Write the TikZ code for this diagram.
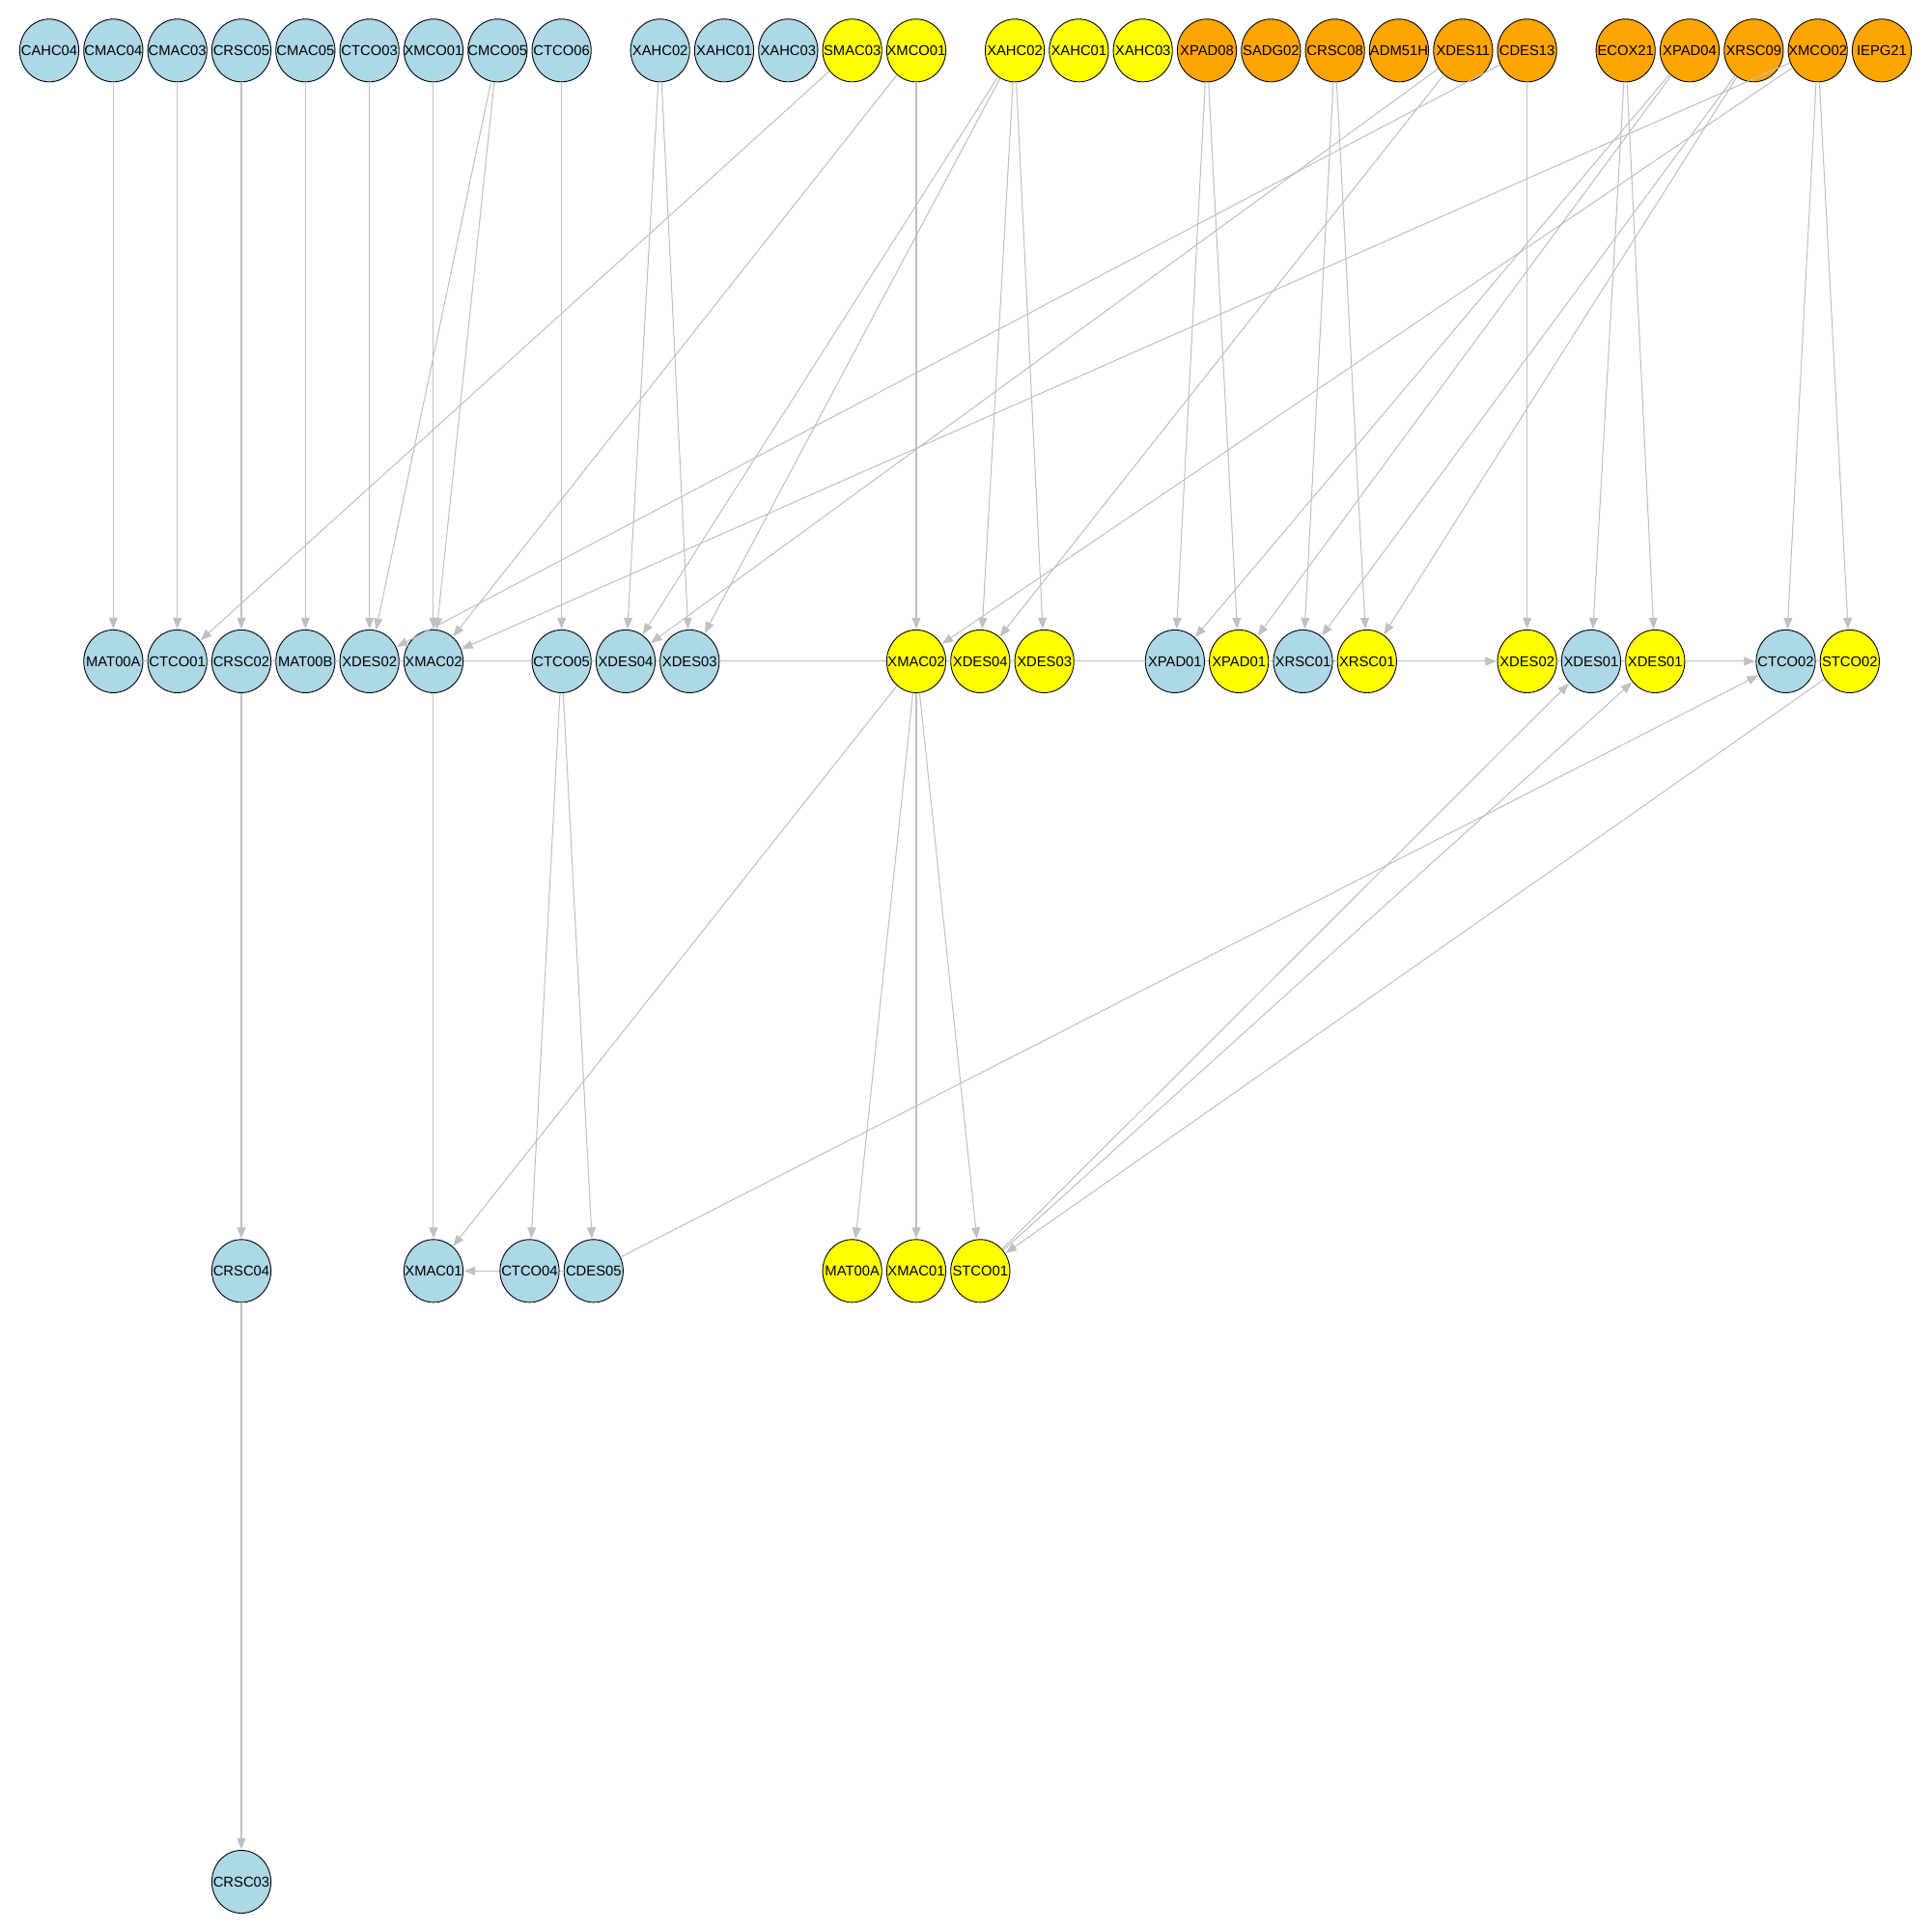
\documentclass[tikz,border=0pt]{standalone}
\usepackage{fontspec}
\setmainfont{Liberation Sans}
\usetikzlibrary{shapes.geometric,arrows.meta}
\definecolor{lb}{HTML}{ADD8E6}
\definecolor{yl}{HTML}{FFFF00}
\definecolor{og}{HTML}{FFA500}
\definecolor{eg}{HTML}{C0C0C0}
\tikzset{
  nd/.style={ellipse, draw=black, line width=0.7pt, minimum width=48pt, minimum height=51pt, inner sep=0pt, font=\fontsize{11.6}{13}\selectfont},
  bl/.style={nd, fill=lb},
  ye/.style={nd, fill=yl},
  or/.style={nd, fill=og},
  ed/.style={draw=eg, line width=0.8pt},
  ar/.style={ed, -{Triangle[length=9pt,width=7pt]}, shorten >=0.5pt},
}
\newcommand\mynode[5]{\node[#1] (#2) at (#3,-#4) {\makebox[0pt]{#5}};}
\begin{document}
\begin{tikzpicture}[x=1pt,y=1pt]
\useasboundingbox[fill=white] (0,0) rectangle (1568,-1568);
% top row
\mynode{bl}{tCAHC04}{40}{41}{CAHC04}
\mynode{bl}{tCMAC04}{92}{41}{CMAC04}
\mynode{bl}{tCMAC03}{144}{41}{CMAC03}
\mynode{bl}{tCRSC05}{196}{41}{CRSC05}
\mynode{bl}{tCMAC05}{248}{41}{CMAC05}
\mynode{bl}{tCTCO03}{300}{41}{CTCO03}
\mynode{bl}{tXMCO01b}{352}{41}{XMCO01}
\mynode{bl}{tCMCO05}{404}{41}{CMCO05}
\mynode{bl}{tCTCO06}{456}{41}{CTCO06}
\mynode{bl}{tXAHC02b}{536}{41}{XAHC02}
\mynode{bl}{tXAHC01b}{588}{41}{XAHC01}
\mynode{bl}{tXAHC03b}{640}{41}{XAHC03}
\mynode{ye}{tSMAC03}{692}{41}{SMAC03}
\mynode{ye}{tXMCO01y}{744}{41}{XMCO01}
\mynode{ye}{tXAHC02y}{824}{41}{XAHC02}
\mynode{ye}{tXAHC01y}{876}{41}{XAHC01}
\mynode{ye}{tXAHC03y}{928}{41}{XAHC03}
\mynode{or}{tXPAD08}{980}{41}{XPAD08}
\mynode{or}{tSADG02}{1032}{41}{SADG02}
\mynode{or}{tCRSC08}{1084}{41}{CRSC08}
\mynode{or}{tADM51H}{1136}{41}{ADM51H}
\mynode{or}{tXDES11}{1188}{41}{XDES11}
\mynode{or}{tCDES13}{1240}{41}{CDES13}
\mynode{or}{tECOX21}{1320}{41}{ECOX21}
\mynode{or}{tXPAD04}{1372}{41}{XPAD04}
\mynode{or}{tXRSC09}{1424}{41}{XRSC09}
\mynode{or}{tXMCO02}{1476}{41}{XMCO02}
\mynode{or}{tIEPG21}{1528}{41}{IEPG21}
% middle row
\mynode{bl}{mMAT00A}{92}{537}{MAT00A}
\mynode{bl}{mCTCO01}{144}{537}{CTCO01}
\mynode{bl}{mCRSC02}{196}{537}{CRSC02}
\mynode{bl}{mMAT00B}{248}{537}{MAT00B}
\mynode{bl}{mXDES02b}{300}{537}{XDES02}
\mynode{bl}{mXMAC02b}{352}{537}{XMAC02}
\mynode{bl}{mCTCO05}{456}{537}{CTCO05}
\mynode{bl}{mXDES04b}{508}{537}{XDES04}
\mynode{bl}{mXDES03b}{560}{537}{XDES03}
\mynode{ye}{mXMAC02y}{744}{537}{XMAC02}
\mynode{ye}{mXDES04y}{796}{537}{XDES04}
\mynode{ye}{mXDES03y}{848}{537}{XDES03}
\mynode{bl}{mXPAD01b}{954}{537}{XPAD01}
\mynode{ye}{mXPAD01y}{1006}{537}{XPAD01}
\mynode{bl}{mXRSC01b}{1058}{537}{XRSC01}
\mynode{ye}{mXRSC01y}{1110}{537}{XRSC01}
\mynode{ye}{mXDES02y}{1240}{537}{XDES02}
\mynode{bl}{mXDES01b}{1292}{537}{XDES01}
\mynode{ye}{mXDES01y}{1344}{537}{XDES01}
\mynode{bl}{mCTCO02}{1450}{537}{CTCO02}
\mynode{ye}{mSTCO02}{1502}{537}{STCO02}
% lower row
\mynode{bl}{lCRSC04}{196}{1032}{CRSC04}
\mynode{bl}{lXMAC01b}{352}{1032}{XMAC01}
\mynode{bl}{lCTCO04}{430}{1032}{CTCO04}
\mynode{bl}{lCDES05}{482}{1032}{CDES05}
\mynode{ye}{lMAT00Ay}{692}{1032}{MAT00A}
\mynode{ye}{lXMAC01y}{744}{1032}{XMAC01}
\mynode{ye}{lSTCO01}{796}{1032}{STCO01}
% bottom
\mynode{bl}{bCRSC03}{196}{1528}{CRSC03}
% edges top -> middle
\draw[ar] (tCMAC04) -- (mMAT00A);
\draw[ar] (tCMAC03) -- (mCTCO01);
\draw[ar] (tCRSC05) -- (mCRSC02);
\draw[ar] (tCMAC05) -- (mMAT00B);
\draw[ar] (tCTCO03) -- (mXDES02b);
\draw[ar] (tXMCO01b) -- (mXMAC02b);
\draw[ar] (tCMCO05) -- (mXDES02b);
\draw[ar] (tCMCO05) -- (mXMAC02b);
\draw[ar] (tCTCO06) -- (mCTCO05);
\draw[ar] (tXAHC02b) -- (mXDES04b);
\draw[ar] (tXAHC02b) -- (mXDES03b);
\draw[ar] (tSMAC03) -- (mCTCO01);
\draw[ar] (tXMCO01y) -- (mXMAC02b);
\draw[ar] (tXMCO01y) -- (mXMAC02y);
\draw[ar] (tXAHC02y) -- (mXDES04b);
\draw[ar] (tXAHC02y) -- (mXDES03b);
\draw[ar] (tXAHC02y) -- (mXDES04y);
\draw[ar] (tXAHC02y) -- (mXDES03y);
\draw[ar] (tXPAD08) -- (mXPAD01b);
\draw[ar] (tXPAD08) -- (mXPAD01y);
\draw[ar] (tCRSC08) -- (mXRSC01b);
\draw[ar] (tCRSC08) -- (mXRSC01y);
\draw[ar] (tXDES11) -- (mXDES04b);
\draw[ar] (tXDES11) -- (mXDES04y);
\draw[ar] (tCDES13) -- (mXDES02b);
\draw[ar] (tCDES13) -- (mXDES02y);
\draw[ar] (tECOX21) -- (mXDES01b);
\draw[ar] (tECOX21) -- (mXDES01y);
\draw[ar] (tXPAD04) -- (mXPAD01b);
\draw[ar] (tXPAD04) -- (mXPAD01y);
\draw[ar] (tXRSC09) -- (mXRSC01b);
\draw[ar] (tXRSC09) -- (mXRSC01y);
\draw[ar] (tXMCO02) -- (mXMAC02b);
\draw[ar] (tXMCO02) -- (mXMAC02y);
\draw[ar] (tXMCO02) -- (mCTCO02);
\draw[ar] (tXMCO02) -- (mSTCO02);
% middle row horizontals
\draw[ed] (mMAT00A) -- (mCTCO01);
\draw[ed] (mCTCO01) -- (mCRSC02);
\draw[ed] (mCRSC02) -- (mMAT00B);
\draw[ed] (mMAT00B) -- (mXDES02b);
\draw[ed] (mXDES02b) -- (mXMAC02b);
\draw[ed] (mXMAC02b) -- (mCTCO05);
\draw[ed] (mCTCO05) -- (mXDES04b);
\draw[ed] (mXDES04b) -- (mXDES03b);
\draw[ed] (mXDES03b) -- (mXMAC02y);
\draw[ed] (mXMAC02y) -- (mXDES04y);
\draw[ed] (mXDES04y) -- (mXDES03y);
\draw[ed] (mXDES03y) -- (mXPAD01b);
\draw[ed] (mXPAD01b) -- (mXPAD01y);
\draw[ed] (mXPAD01y) -- (mXRSC01b);
\draw[ed] (mXRSC01b) -- (mXRSC01y);
\draw[ar] (mXRSC01y) -- (mXDES02y);
\draw[ed] (mXDES02y) -- (mXDES01b);
\draw[ed] (mXDES01b) -- (mXDES01y);
\draw[ar] (mXDES01y) -- (mCTCO02);
\draw[ed] (mCTCO02) -- (mSTCO02);
% middle -> lower
\draw[ar] (mCRSC02) -- (lCRSC04);
\draw[ar] (lCRSC04) -- (bCRSC03);
\draw[ar] (mXMAC02b) -- (lXMAC01b);
\draw[ar] (mCTCO05) -- (lCTCO04);
\draw[ar] (mCTCO05) -- (lCDES05);
\draw[ar] (mXMAC02y) -- (lXMAC01b);
\draw[ar] (mXMAC02y) -- (lMAT00Ay);
\draw[ar] (mXMAC02y) -- (lXMAC01y);
\draw[ar] (mXMAC02y) -- (lSTCO01);
\draw[ar] (lCTCO04) -- (lXMAC01b);
\draw[ed] (lCTCO04) -- (lCDES05);
\draw[ar] (lCDES05) -- (mCTCO02);
\draw[ar] (lSTCO01) -- (mXDES01b);
\draw[ar] (lSTCO01) -- (mXDES01y);
\draw[ar] (mSTCO02) -- (lSTCO01);
\end{tikzpicture}
\end{document}
